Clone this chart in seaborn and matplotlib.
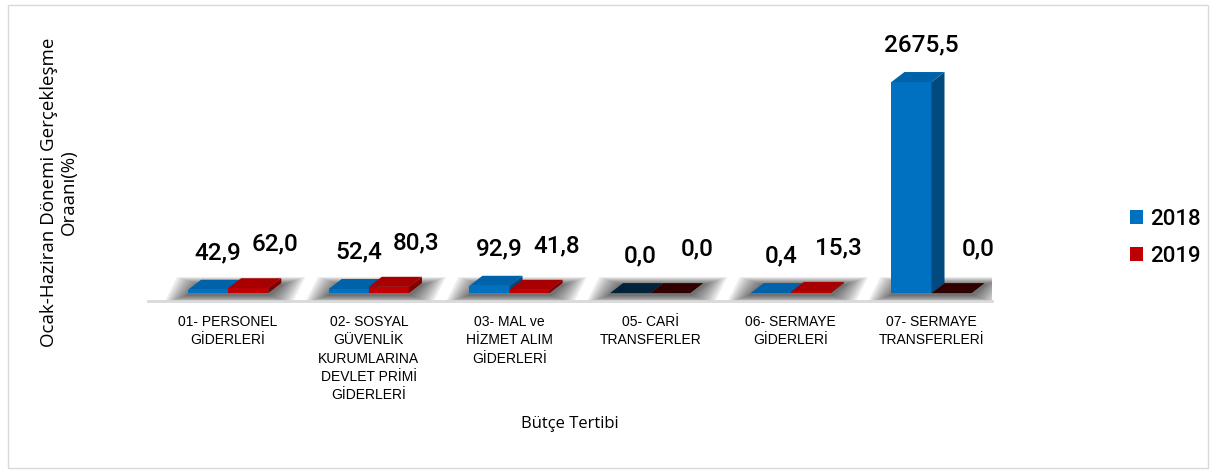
import matplotlib
matplotlib.use("Agg")
import matplotlib.pyplot as plt
import matplotlib.patches as mpatches
import pandas as pd
import seaborn as sns

KATEGORILER = [
    "01- PERSONEL\nGİDERLERİ",
    "02- SOSYAL\nGÜVENLİK\nKURUMLARINA\nDEVLET PRİMİ\nGİDERLERİ",
    "03- MAL ve\nHİZMET ALIM\nGİDERLERİ",
    "05- CARİ\nTRANSFERLER",
    "06- SERMAYE\nGİDERLERİ",
    "07- SERMAYE\nTRANSFERLERİ",
]
ORAN_2018 = [42.9, 52.4, 92.9, 0.0, 0.4, 2675.5]
ORAN_2019 = [62.0, 80.3, 41.8, 0.0, 15.3, 0.0]
YILLAR = ["2018", "2019"]

ON_RENK = {"2018": "#0070C0", "2019": "#C00000"}
YAN_RENK = {"2018": "#004A7F", "2019": "#7F0000"}
UST_RENK = {"2018": "#0062A8", "2019": "#A80000"}
SIFIR_UST = {"2018": "#00233A", "2019": "#300000"}

df = pd.DataFrame({
    "kategori": KATEGORILER * 2,
    "oran": ORAN_2018 + ORAN_2019,
    "yil": [YILLAR[0]] * len(KATEGORILER) + [YILLAR[1]] * len(KATEGORILER),
})

W, H, DPI = 1215, 473, 100
fig = plt.figure(figsize=(W / DPI, H / DPI), dpi=DPI)

# axes placement in pixels
left_px, right_px, bottom_px, top_px = 148, 992, 301, 30
ax = fig.add_axes([left_px / W, 1 - bottom_px / H, (right_px - left_px) / W, (bottom_px - top_px) / H])

sns.barplot(data=df, x="kategori", y="oran", hue="yil", palette=ON_RENK, width=0.57,
            saturation=1, linewidth=0, legend=False, ax=ax, zorder=2)

xmin, xmax = -0.57, 5.43
ymin, ymax = -100, 3335
ax.set_xlim(xmin, xmax)
ax.set_ylim(ymin, ymax)

px_x = (right_px - left_px) / (xmax - xmin)
px_y = (bottom_px - top_px) / (ymax - ymin)
dx, dy = 13 / px_x, 10 / px_y

# soft shadow under each group
n_layers = 10
for i in range(len(KATEGORILER)):
    for k in range(n_layers):
        grow = (n_layers - k) * 2.4 / px_x
        grow_y = (n_layers - k) * 0.8 / px_y
        x0 = i - 0.285 - grow
        x1 = i + 0.285 + dx + grow
        shadow = mpatches.Polygon(
            [(x0, -25 - grow_y), (x1 - dx, -25 - grow_y), (x1, dy - 25 + grow_y), (x0 + dx, dy - 25 + grow_y)],
            closed=True, facecolor="#000000", alpha=0.075, linewidth=0, zorder=1)
        ax.add_patch(shadow)

for yil, container, vals in zip(YILLAR, ax.containers, [ORAN_2018, ORAN_2019]):
    z = 2 if yil == "2018" else 3
    for p, v in zip(container.patches, vals):
        p.set_zorder(z)
        x0, w, h = p.get_x(), p.get_width(), p.get_height()
        side = mpatches.Polygon([(x0 + w, 0), (x0 + w + dx, dy), (x0 + w + dx, h + dy), (x0 + w, h)],
                                closed=True, facecolor=YAN_RENK[yil], linewidth=0, zorder=z)
        top = mpatches.Polygon([(x0, h), (x0 + dx, h + dy), (x0 + w + dx, h + dy), (x0 + w, h)],
                               closed=True, facecolor=SIFIR_UST[yil] if v == 0 else UST_RENK[yil],
                               linewidth=0, zorder=z)
        ax.add_patch(side)
        ax.add_patch(top)
        off = (10, 37) if yil == "2018" else (27, 44)
        ax.annotate(f"{v:.1f}".replace(".", ","), (x0 + w / 2, h),
                    xytext=(off[0] * 0.72, off[1] * 0.72), textcoords="offset points",
                    ha="center", va="center", fontsize=17.5, family="Roboto", weight="medium",
                    color="black", zorder=5)

for s in ["top", "right", "left"]:
    ax.spines[s].set_visible(False)
ax.spines["bottom"].set_color("#d9d9d9")
ax.spines["bottom"].set_linewidth(2)
ax.set_yticks([])
ax.tick_params(axis="x", length=0, pad=10)
ax.set_xticks(range(len(KATEGORILER)))
ax.set_xticklabels(KATEGORILER, fontsize=10, family="Liberation Sans", linespacing=1.4,
                   multialignment="center", va="top", color="#000000")
ax.set_xlabel("Bütçe Tertibi", fontsize=12, family="Open Sans")
ax.xaxis.set_label_coords((570 - left_px) / (right_px - left_px), (bottom_px - 416) / (bottom_px - top_px))
ax.set_ylabel("Ocak-Haziran Dönemi Gerçekleşme\nOraanı(%)", fontsize=13.5, family="Open Sans",
              multialignment="center", linespacing=1.15)
ax.yaxis.set_label_coords((78 - left_px) / (right_px - left_px), (bottom_px - 192) / (bottom_px - top_px))
ax.patch.set_alpha(0)

handles = [mpatches.Patch(facecolor=ON_RENK[y], label=y) for y in YILLAR]
fig.legend(handles=handles, loc="center left", bbox_to_anchor=(1110 / W, 1 - 238 / H), frameon=False,
           prop={"family": "Roboto", "weight": "medium", "size": 16}, handlelength=0.6, handleheight=0.6,
           handletextpad=0.3, labelspacing=0.7)

fig.patches.append(mpatches.Rectangle((8 / W, 5 / H), 1200 / W, 463 / H, transform=fig.transFigure,
                                      fill=False, edgecolor="#d9d9d9", linewidth=1))

fig.savefig("out.png", dpi=DPI)
